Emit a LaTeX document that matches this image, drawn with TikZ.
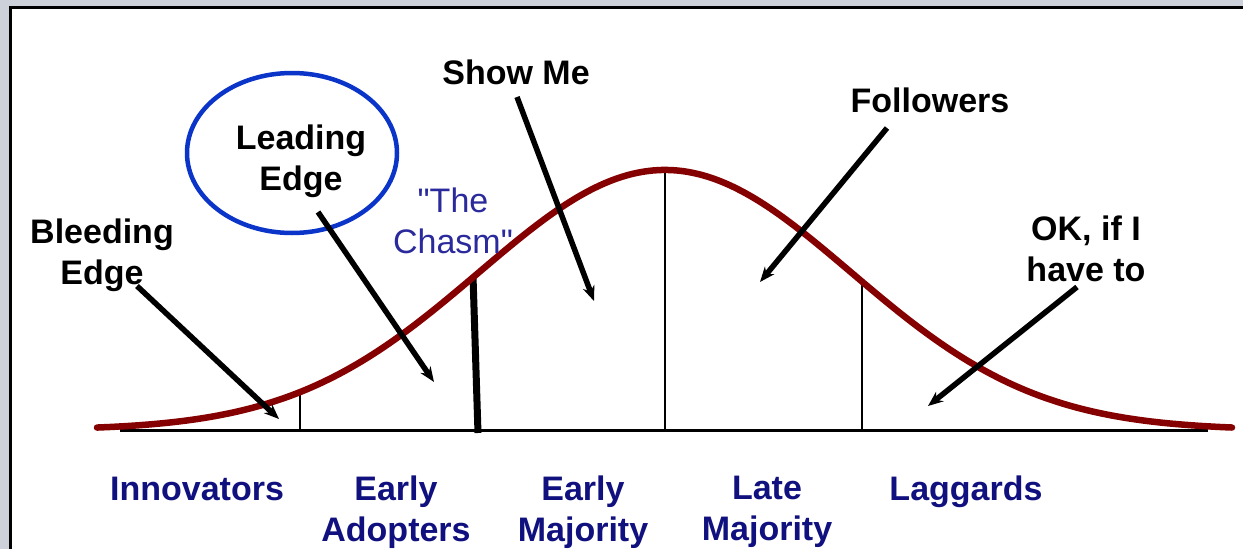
\documentclass[tikz,border=0pt]{standalone}
\usepackage{fontspec}
\setmainfont{Liberation Sans}
\newfontfamily\chasmfont{Liberation Sans}
\usetikzlibrary{arrows.meta,shapes.geometric}
\definecolor{bggray}{HTML}{CDD2DA}
\definecolor{curvered}{HTML}{850000}
\definecolor{ringblue}{HTML}{0A35C8}
\definecolor{labnavy}{HTML}{10107E}
\definecolor{chasmblue}{HTML}{2A2A9C}
\tikzset{
  callout/.style={font=\fontsize{34}{41}\selectfont\bfseries, text=black, align=center, inner sep=0pt},
  segment/.style={font=\fontsize{34}{41}\selectfont\bfseries, text=labnavy, align=center, inner sep=0pt},
  chasmtext/.style={font=\fontsize{34}{41}\selectfont\chasmfont, text=chasmblue, align=center, inner sep=0pt},
  pointer/.style={line width=5.5pt, -{Stealth[length=15pt,width=12pt]}},
  divider/.style={line width=2.3pt},
}
\begin{document}
\begin{tikzpicture}[x=1pt,y=-1pt]
\useasboundingbox (0,0) rectangle (1243,549);
\fill[bggray] (0,0) rectangle (1243,549);
\fill[white] (10,7) rectangle (1243,549);
\draw[line width=3pt] (10,549) -- (10,7) -- (1243,7);

% axis
\coordinate (axL) at (120,430);
\coordinate (axR) at (1208,430);
\draw[line width=3pt] (axL) -- (axR);

% dividers
\draw[divider] (300,430) -- (300,395);
\draw[line width=7pt] (478,433) -- (473,276);
\draw[divider] (665,430) -- (665,172);
\draw[divider] (862,430) -- (862,283);

% bell curve
\draw[curvered, line width=6.5pt, line cap=round] plot[domain=97:1232, samples=240, smooth]
  (\x, {430-260*exp(-0.5*((\x-665)/186)^2)});

% labels
\node[callout] (bleed) at (102,255) {Bleeding\\Edge};
\node[callout] (lead) at (301,161) {Leading\\Edge};
\node[draw=ringblue, line width=4.5pt, ellipse, minimum width=210pt, minimum height=160pt] (ring) at (292,153) {};
\node[callout] (show) at (516,72) {Show Me};
\node[chasmtext] (chasm) at (453,221) {"The\\Chasm"};
\node[callout] (follow) at (930,100) {Followers};
\node[callout] (ok) at (1086,249) {OK, if I\\have to};

\node[segment] (innov) at (197,489) {Innovators};
\node[segment] (eadopt) at (396,512) {Early\\Adopters};
\node[segment] (emaj) at (583,512) {Early\\Majority};
\node[segment] (lmaj) at (767,512) {Late\\Majority};
\node[segment] (lagg) at (966,492) {Laggards};

% arrows
\coordinate (bleedS) at (137,286);
\coordinate (bleedE) at (279,419);
\coordinate (leadS) at (318,212);
\coordinate (leadE) at (434,382);
\coordinate (showS) at (517,97);
\coordinate (showE) at (594,301);
\coordinate (followS) at (887,128);
\coordinate (followE) at (760,282);
\coordinate (okS) at (1077,287);
\coordinate (okE) at (928,406);
\draw[pointer] (bleedS) -- (bleedE);
\draw[pointer] (leadS) -- (leadE);
\draw[pointer] (showS) -- (showE);
\draw[pointer] (followS) -- (followE);
\draw[pointer] (okS) -- (okE);
\end{tikzpicture}
\end{document}
